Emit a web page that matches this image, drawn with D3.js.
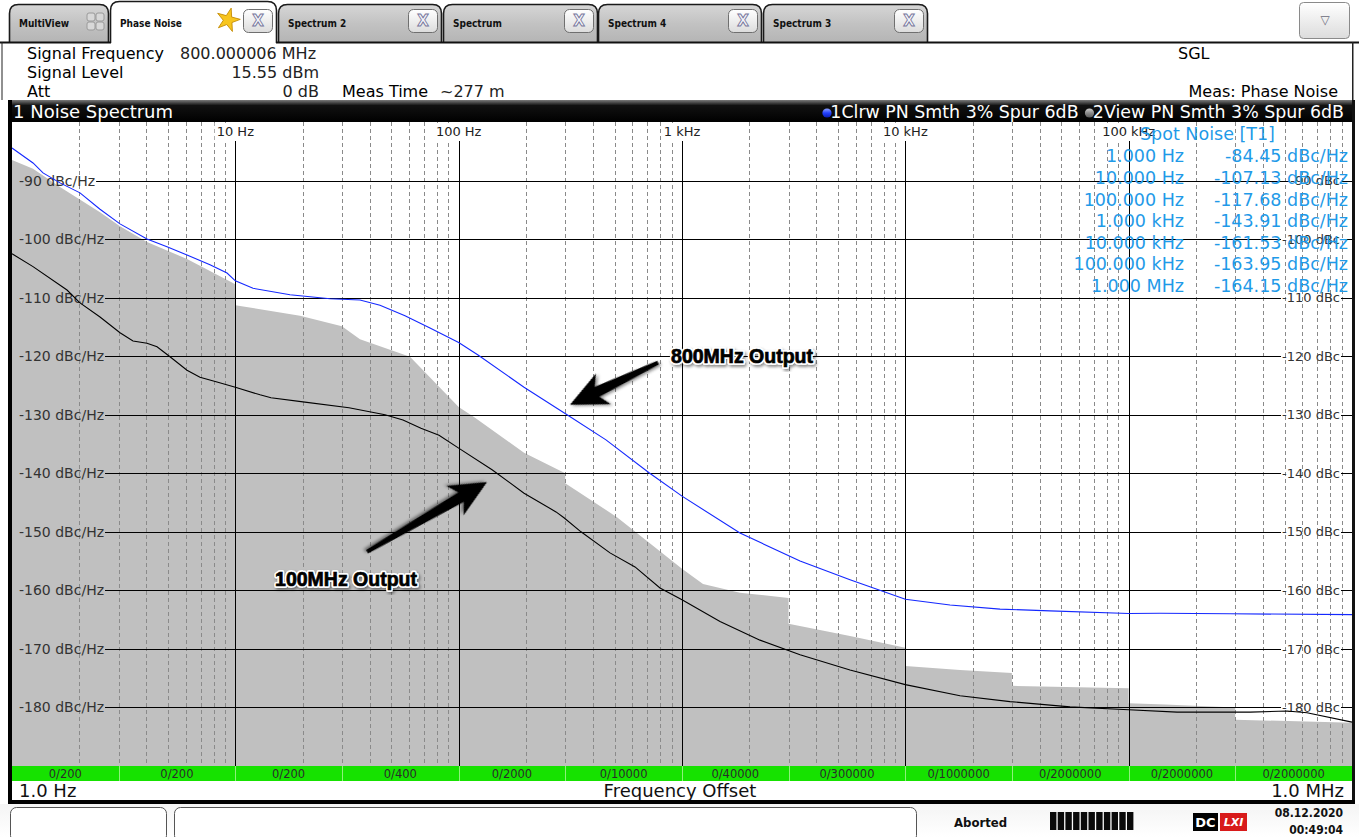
<!DOCTYPE html>
<html><head><meta charset="utf-8">
<script src="https://cdn.jsdelivr.net/npm/d3@7"></script>
<style>
html,body{margin:0;padding:0;background:#fff;overflow:hidden;}
svg{display:block;}
</style></head><body>
<svg id="c" width="1359" height="837" font-family="DejaVu Sans, sans-serif"></svg>
<script>
// ---------------- data ----------------
// Trace 1 (800 MHz output), blue, clear-write
const t1Freq = [1, 1.242, 1.377, 1.64, 2.016, 2.478, 3.045, 4.022, 4.943, 6.076, 7.70, 9.18, 10,
  12.0, 17.57, 26.54, 36.15, 44.44, 57.5, 74.4, 100, 122.1, 196.2, 305.7, 456.7, 711.8, 1000,
  1818, 3377, 5653, 10000, 15849, 26544, 44443, 100000, 138100, 284300, 1000000];
const t1Db = [-84.45, -87.0, -88.7, -90.4, -92.1, -94.9, -97.4, -100.0, -101.3, -102.7, -104.4, -105.8, -107.13,
  -108.4, -109.5, -110.2, -110.4, -111.3, -113.1, -115.2, -117.68, -119.8, -125.3, -130.0, -134.3, -139.9, -143.91,
  -150.2, -155.0, -158.2, -161.53, -162.5, -163.2, -163.5, -163.95, -163.9, -164.0, -164.15];

// Trace 2 (100 MHz output), black
const t2Freq = [1, 1.242, 1.763, 2.016, 2.478, 3.045, 3.482, 4.022, 4.461, 5.099, 6.076, 6.946, 8.279, 10,
  12.9, 14.44, 20.09, 32.28, 46.8, 56.33, 67.8, 81.66, 100, 141.1, 196.2, 272.8, 296.2, 353.0, 476, 616.1, 797,
  1000, 1480, 2235, 3377, 5653, 10000, 17576, 29425, 54631, 100000, 164600, 349500, 511700, 628700, 1000000];
const t2Db = [-102.5, -104.7, -108.7, -110.9, -113.3, -116.0, -117.4, -117.8, -118.4, -120.1, -122.4, -123.6, -124.4, -125.3,
  -126.6, -127.1, -127.8, -128.8, -130.0, -130.9, -132.3, -133.5, -135.7, -139.4, -143.4, -146.6, -147.6, -150.0, -153.6, -156.0, -159.6,
  -161.6, -165.3, -168.5, -171.0, -173.6, -176.1, -178.0, -179.0, -179.9, -180.4, -180.8, -180.8, -180.6, -180.9, -182.5];

// Stored view trace (grey area), one level per half-decade segment
const viewFreq = [1, 1.242, 1.64, 2.478, 3.045, 4.022, 6.076, 10, 10, 19.48, 30, 36.15, 60.55, 100, 117.1, 196.2, 300, 300,
  511.7, 1000, 1242, 1818, 3000, 3000, 5653, 10000, 10000, 17576, 30000, 30000, 100000, 100000, 145500, 300000, 300000, 1000000];
const viewDb = [-86.5, -88.0, -91.1, -95.4, -97.8, -100.5, -103.4, -107.7, -111.3, -113.1, -114.9, -117.1, -120.1, -128.7, -130.4, -136.5, -140.0, -141.7,
  -147.5, -156.3, -158.9, -160.4, -161.3, -165.7, -167.8, -169.8, -172.9, -173.6, -174.1, -176.3, -176.7, -179.3, -179.5, -180.0, -182.1, -182.6];

// Spot noise table (trace 1)
const spotFreq = [1, 10, 100, 1000, 10000, 100000, 1000000];
const spotFreqLabels = ["1.000 Hz", "10.000 Hz", "100.000 Hz", "1.000 kHz", "10.000 kHz", "100.000 kHz", "1.000 MHz"];
const spotDb = [-84.45, -107.13, -117.68, -143.91, -161.53, -163.95, -164.15];

// Half-decade measurement segments and their averaging counters
const segEdges = [1, 3, 10, 30, 100, 300, 1000, 3000, 10000, 30000, 100000, 300000, 1000000];
const segLabels = ["0/200", "0/200", "0/200", "0/400", "0/2000", "0/10000", "0/40000", "0/300000",
  "0/1000000", "0/2000000", "0/2000000", "0/2000000"];

// Axis ticks
const yTicks = [-90, -100, -110, -120, -130, -140, -150, -160, -170, -180];
const xDecades = [10, 100, 1000, 10000, 100000];
const xDecadeLabels = ["10 Hz", "100 Hz", "1 kHz", "10 kHz", "100 kHz"];

const tabNames = ["MultiView", "Phase Noise", "Spectrum 2", "Spectrum", "Spectrum 4", "Spectrum 3"];

// ---------------- drawing ----------------
const W = 1359, H = 837;
const svg = d3.select("#c");
const defs = svg.append("defs");

function grad(id, stops) {
  const g = defs.append("linearGradient").attr("id", id).attr("x1", 0).attr("y1", 0).attr("x2", 0).attr("y2", 1);
  stops.forEach(s => g.append("stop").attr("offset", s[0]).attr("stop-color", s[1]));
}
grad("tabGrad", [[0, "#d6d6d6"], [0.5, "#c2c2c2"], [1, "#b4b4b4"]]);
grad("btnGrad", [[0, "#ffffff"], [1, "#dcdcdc"]]);
grad("titleGrad", [[0, "#7a7a7a"], [0.25, "#111"], [1, "#000"]]);
grad("statusGrad", [[0, "#f4f4f4"], [1, "#ffffff"]]);
grad("dotBlue", [[0, "#8fa4ff"], [0.5, "#2340ff"], [1, "#0a1cb0"]]);
grad("dotGrey", [[0, "#d0d0d0"], [0.5, "#8a8a8a"], [1, "#5a5a5a"]]);

const shadow = defs.append("filter").attr("id", "shadow").attr("x", "-20%").attr("y", "-20%").attr("width", "140%").attr("height", "140%");
shadow.append("feDropShadow").attr("dx", 1.5).attr("dy", 2).attr("stdDeviation", 1.8).attr("flood-color", "#000").attr("flood-opacity", 0.45);

svg.append("rect").attr("width", W).attr("height", H).attr("fill", "#fff");

// ---- tab strip ----
const tabX = [[9, 109], [110, 277], [278, 442], [443, 598], [598, 762], [763, 928]];
const tabG = svg.append("g");
function tabPath(x0, x1, y0, yb, r) {
  return `M${x0},${yb} L${x0},${y0 + r} Q${x0},${y0} ${x0 + r},${y0} L${x1 - r},${y0} Q${x1},${y0} ${x1},${y0 + r} L${x1},${yb}`;
}
tabNames.forEach((name, i) => {
  const [x0, x1] = tabX[i];
  const active = i === 1;
  const y0 = active ? 1 : 4;
  tabG.append("path").attr("d", tabPath(x0 + 0.5, x1 - 0.5, y0 + 0.5, 43, 9))
    .attr("fill", active ? "#fff" : "url(#tabGrad)").attr("stroke", "#1a1a1a").attr("stroke-width", 1.6);
  tabG.append("text").attr("x", x0 + 10).attr("y", 23).attr("dy", "0.35em")
    .attr("font-family", "DejaVu Sans Condensed").attr("font-weight", "bold").attr("font-size", 10)
    .attr("fill", "#111").text(name);
  if (i === 0) {
    // view grid icon
    [[0, 0], [1, 0], [0, 1], [1, 1]].forEach(([a, b]) => {
      tabG.append("rect").attr("x", 87 + a * 9).attr("y", 13 + b * 9).attr("width", 8).attr("height", 8).attr("rx", 2)
        .attr("fill", "#d8d8d8").attr("stroke", "#9a9a9a");
    });
  } else {
    const bx = x1 - 34, by = 9;
    tabG.append("rect").attr("x", bx + 0.5).attr("y", by + 0.5).attr("width", 29).attr("height", 23).attr("rx", 5)
      .attr("fill", "url(#btnGrad)").attr("stroke", "#6f6f6f");
    tabG.append("text").attr("x", bx + 15).attr("y", by + 12).attr("dy", "0.36em").attr("text-anchor", "middle")
      .attr("font-size", 15).attr("font-weight", "bold").attr("fill", "#f4f4fa").attr("stroke", "#75759a").attr("stroke-width", 0.9)
      .text("X");
  }
  if (active) {
    const star = d3.symbol().type(d3.symbolStar).size(170);
    tabG.append("path").attr("d", star()).attr("transform", "translate(228,20) rotate(15)")
      .attr("fill", "#f7c51e").attr("stroke", "#c48a00").attr("stroke-width", 0.8);
  }
});
// strip baseline (open under the active tab)
svg.append("rect").attr("x", 0).attr("y", 41.5).attr("width", 111).attr("height", 2).attr("fill", "#111");
svg.append("rect").attr("x", 276).attr("y", 41.5).attr("width", W - 276).attr("height", 2).attr("fill", "#111");
// dropdown button
svg.append("rect").attr("x", 1299.5).attr("y", 2.5).attr("width", 50).attr("height", 36).attr("rx", 4)
  .attr("fill", "url(#btnGrad)").attr("stroke", "#8a8a8a");
svg.append("text").attr("x", 1325).attr("y", 20).attr("dy", "0.35em").attr("text-anchor", "middle")
  .attr("font-size", 12).attr("fill", "#6a6a7a").text("▽");

// ---- header ----
svg.append("rect").attr("x", 1.5).attr("y", 42).attr("width", 1).attr("height", 58).attr("fill", "#222");
svg.append("rect").attr("x", 1352).attr("y", 42).attr("width", 1.5).attr("height", 58).attr("fill", "#222");
const hdr = svg.append("g").attr("font-size", 16).attr("fill", "#000");
hdr.append("text").attr("x", 27).attr("y", 53).attr("dy", "0.36em").text("Signal Frequency");
hdr.append("text").attr("x", 180).attr("y", 53).attr("dy", "0.36em").attr("fill", "#222").text("800.000006 MHz");
hdr.append("text").attr("x", 27).attr("y", 72).attr("dy", "0.36em").text("Signal Level");
hdr.append("text").attr("x", 319).attr("y", 72).attr("dy", "0.36em").attr("text-anchor", "end").attr("fill", "#222").text("15.55 dBm");
hdr.append("text").attr("x", 27).attr("y", 91).attr("dy", "0.36em").text("Att");
hdr.append("text").attr("x", 319).attr("y", 91).attr("dy", "0.36em").attr("text-anchor", "end").attr("fill", "#222").text("0 dB");
hdr.append("text").attr("x", 342).attr("y", 91).attr("dy", "0.36em").text("Meas Time");
hdr.append("text").attr("x", 440).attr("y", 91).attr("dy", "0.36em").attr("fill", "#222").text("~277 m");
hdr.append("text").attr("x", 1178).attr("y", 53).attr("dy", "0.36em").text("SGL");
hdr.append("text").attr("x", 1338).attr("y", 91).attr("dy", "0.36em").attr("text-anchor", "end").text("Meas: Phase Noise");

// ---- plot window ----
const PL = 12, PR = 1352, PT = 122, PB = 766;
const x = d3.scaleLog().domain([1, 1e6]).range([PL, PR]);
const y = d3.scaleLinear().domain([-80, -190]).range([PT, PB]);
const px = v => Math.round(x(v)) + 0.5;
const py = v => Math.round(y(v)) + 0.5;

// title bar
svg.append("rect").attr("x", 9).attr("y", 100).attr("width", 1343).attr("height", 22).attr("fill", "url(#titleGrad)");
svg.append("text").attr("x", 13).attr("y", 112).attr("dy", "0.36em").attr("font-size", 18).attr("fill", "#fff").text("1 Noise Spectrum");
const legend = svg.append("text").attr("x", 1344).attr("y", 112).attr("dy", "0.36em").attr("font-size", 17.4)
  .attr("text-anchor", "end").attr("fill", "#fff");
legend.append("tspan").attr("class", "d1").text("\u2002");
legend.append("tspan").text("1Clrw PN Smth 3% Spur 6dB ");
legend.append("tspan").attr("class", "d2").text("\u2002");
legend.append("tspan").text("2View PN Smth 3% Spur 6dB");
// trace indicator dots placed in the gaps left in the legend line
[["d1", "url(#dotBlue)"], ["d2", "url(#dotGrey)"]].forEach(([cls, fill]) => {
  const b = legend.select("." + cls).node().getBBox();
  svg.append("circle").attr("cx", b.x + b.width / 2 + 1).attr("cy", 113).attr("r", 4.6).attr("fill", fill);
});

// plot background
svg.append("rect").attr("x", PL).attr("y", PT).attr("width", PR - PL).attr("height", PB - PT).attr("fill", "#fff");

// grey stored trace as filled area
const viewPts = viewFreq.map((f, i) => [f, viewDb[i]]);
svg.append("path").datum(viewPts)
  .attr("d", d3.area().x(d => x(d[0])).y0(PB).y1(d => y(d[1])))
  .attr("fill", "#c0c0c0");

// minor vertical grid (dashed)
const minor = [];
for (let d = 0; d < 6; d++) for (let m = 2; m <= 9; m++) minor.push(m * Math.pow(10, d));
svg.append("g").selectAll("line").data(minor).join("line")
  .attr("x1", d => px(d)).attr("x2", d => px(d)).attr("y1", PT).attr("y2", PB)
  .attr("stroke", "#8a8a8a").attr("stroke-width", 1).attr("stroke-dasharray", "4,3");

// decade lines
svg.append("g").selectAll("line").data(xDecades).join("line")
  .attr("x1", d => px(d)).attr("x2", d => px(d)).attr("y1", 141).attr("y2", PB)
  .attr("stroke", "#000").attr("stroke-width", 1);

// top frequency labels
const topLab = svg.append("g").attr("font-size", 13).attr("fill", "#222");
xDecades.forEach((d, i) => {
  const t = topLab.append("text").attr("x", x(d)).attr("y", 131).attr("dy", "0.36em").attr("text-anchor", "middle").text(xDecadeLabels[i]);
  const w = t.node().getComputedTextLength();
  topLab.insert("rect", "text").attr("x", x(d) - w / 2 - 2).attr("y", 123).attr("width", w + 4).attr("height", 17).attr("fill", "#fff");
});

// horizontal grid with level labels on both sides
const hg = svg.append("g");
yTicks.forEach(v => {
  const lt = hg.append("text").attr("x", 19).attr("y", y(v)).attr("dy", "0.36em").attr("font-size", 14).attr("fill", "#333")
    .text(`${v} dBc/Hz`);
  const lw = lt.node().getComputedTextLength();
  const rt = hg.append("text").attr("x", 1340).attr("y", y(v)).attr("dy", "0.36em").attr("font-size", 13).attr("fill", "#333")
    .attr("text-anchor", "end").text(`${v} dBc`);
  const rw = rt.node().getComputedTextLength();
  hg.insert("line", "text").attr("x1", 19 + lw + 1).attr("x2", 1340 - rw - 1).attr("y1", py(v)).attr("y2", py(v))
    .attr("stroke", "#000").attr("stroke-width", 1);
  hg.insert("line", "text").attr("x1", 1341).attr("x2", PR).attr("y1", py(v)).attr("y2", py(v))
    .attr("stroke", "#000").attr("stroke-width", 1);
});

// traces
const line = d3.line().x(d => x(d[0])).y(d => y(d[1]));
svg.append("path").datum(t2Freq.map((f, i) => [f, t2Db[i]])).attr("d", line)
  .attr("fill", "none").attr("stroke", "#000").attr("stroke-width", 1.1);
svg.append("path").datum(t1Freq.map((f, i) => [f, t1Db[i]])).attr("d", line)
  .attr("fill", "none").attr("stroke", "#1428ff").attr("stroke-width", 1.1);

// spot noise table
const spot = svg.append("g").attr("font-size", 17.5).attr("fill", "#1f9ae8");
spot.append("text").attr("x", 1140).attr("y", 134).attr("dy", "0.36em").text("Spot Noise [T1]");
spotFreq.forEach((f, i) => {
  const yy = 156 + i * 21.6;
  spot.append("text").attr("x", 1184).attr("y", yy).attr("dy", "0.36em").attr("text-anchor", "end").text(spotFreqLabels[i]);
  spot.append("text").attr("x", 1348).attr("y", yy).attr("dy", "0.36em").attr("text-anchor", "end").text(`${spotDb[i].toFixed(2)} dBc/Hz`);
});

// segment / sweep-count bar
const segG = svg.append("g");
segG.append("rect").attr("x", PL).attr("y", PB).attr("width", PR - PL).attr("height", 15).attr("fill", "#16e200");
segLabels.forEach((lab, i) => {
  const a = x(segEdges[i]), b = x(segEdges[i + 1]);
  if (i > 0) segG.append("line").attr("x1", Math.round(a) + 0.5).attr("x2", Math.round(a) + 0.5).attr("y1", PB).attr("y2", PB + 15)
    .attr("stroke", "#8ef27a").attr("stroke-width", 1);
  segG.append("text").attr("x", (a + b) / 2).attr("y", PB + 8).attr("dy", "0.35em").attr("text-anchor", "middle")
    .attr("font-size", 11.5).attr("fill", "#2b2b2b").text(lab);
});

// bottom axis caption
const cap = svg.append("g").attr("font-size", 18).attr("fill", "#111");
cap.append("text").attr("x", 19).attr("y", 791).attr("dy", "0.36em").text("1.0 Hz");
cap.append("text").attr("x", 680).attr("y", 791).attr("dy", "0.36em").attr("text-anchor", "middle").text("Frequency Offset");
cap.append("text").attr("x", 1344).attr("y", 791).attr("dy", "0.36em").attr("text-anchor", "end").text("1.0 MHz");

// window frame
svg.append("rect").attr("x", 8).attr("y", 100).attr("width", 4).attr("height", 705).attr("fill", "#000");
svg.append("rect").attr("x", 1352).attr("y", 100).attr("width", 3).attr("height", 705).attr("fill", "#111");
svg.append("rect").attr("x", 8).attr("y", 800).attr("width", 1347).attr("height", 4).attr("fill", "#000");

// ---- annotations (placed in data coordinates) ----
function arrow(g, tailF, tailDb, tipF, tipDb) {
  const x0 = x(tipF), y0 = y(tipDb), x1 = x(tailF), y1 = y(tailDb);
  const len = Math.hypot(x1 - x0, y1 - y0);
  const ang = Math.atan2(y1 - y0, x1 - x0) * 180 / Math.PI;
  const p = `M0,0 L37,-17 L30,-5.5 L${len},-2 L${len},2 L30,5.5 L37,17 Z`;
  g.append("path").attr("d", p).attr("transform", `translate(${x0},${y0}) rotate(${ang})`)
    .attr("fill", "#050505").attr("filter", "url(#shadow)");
}
const ann = svg.append("g");
arrow(ann, 781, -121.1, 315, -128.3);
arrow(ann, 38.9, -153.4, 134, -141.5);
function annText(t, f, db) {
  const base = sel => sel.attr("x", x(f)).attr("y", y(db)).attr("dy", "0.36em").attr("text-anchor", "middle")
    .attr("font-family", "Liberation Sans").attr("font-weight", "bold").attr("font-size", 19.5).text(t);
  // soft white halo with shadow, then the heavy black lettering
  ann.append("text").call(base).attr("fill", "#fff").attr("stroke", "#fff").attr("stroke-width", 4)
    .attr("stroke-linejoin", "round").attr("filter", "url(#shadow)");
  ann.append("text").call(base).attr("fill", "#000").attr("stroke", "#000").attr("stroke-width", 0.7);
}
annText("800MHz Output", 1857, -120.0);
annText("100MHz Output", 31.3, -158.1);

// ---- status bar ----
svg.append("rect").attr("x", 0).attr("y", 804).attr("width", W).attr("height", 33).attr("fill", "url(#statusGrad)");
svg.append("rect").attr("x", 10.5).attr("y", 807.5).attr("width", 156).attr("height", 34).attr("rx", 6).attr("fill", "#fff").attr("stroke", "#555");
svg.append("rect").attr("x", 174.5).attr("y", 807.5).attr("width", 742).attr("height", 34).attr("rx", 6).attr("fill", "#fff").attr("stroke", "#555");
svg.append("text").attr("x", 954).attr("y", 822).attr("dy", "0.36em").attr("font-family", "DejaVu Sans Condensed")
  .attr("font-weight", "bold").attr("font-size", 13).attr("fill", "#111").text("Aborted");
for (let i = 0; i < 11; i++) {
  svg.append("rect").attr("x", 1050 + i * 7.7).attr("y", 812).attr("width", 6.4).attr("height", 18).attr("fill", "#0a0a0a");
}
svg.append("rect").attr("x", 1193).attr("y", 813).attr("width", 25).attr("height", 18).attr("fill", "#000");
svg.append("text").attr("x", 1205.5).attr("y", 822).attr("dy", "0.36em").attr("text-anchor", "middle")
  .attr("font-weight", "bold").attr("font-size", 13).attr("fill", "#fff").text("DC");
svg.append("rect").attr("x", 1220).attr("y", 813).attr("width", 27).attr("height", 18).attr("fill", "#d81a1a");
svg.append("text").attr("x", 1233.5).attr("y", 822).attr("dy", "0.36em").attr("text-anchor", "middle")
  .attr("font-style", "italic").attr("font-weight", "bold").attr("font-size", 11).attr("fill", "#fff").text("LXI");
svg.append("text").attr("x", 1343).attr("y", 813).attr("dy", "0.36em").attr("text-anchor", "end").attr("font-family", "DejaVu Sans Condensed")
  .attr("font-weight", "bold").attr("font-size", 12).attr("fill", "#111").text("08.12.2020");
svg.append("text").attr("x", 1343).attr("y", 830).attr("dy", "0.36em").attr("text-anchor", "end").attr("font-family", "DejaVu Sans Condensed")
  .attr("font-weight", "bold").attr("font-size", 12).attr("fill", "#111").text("00:49:04");
</script>
</body></html>
